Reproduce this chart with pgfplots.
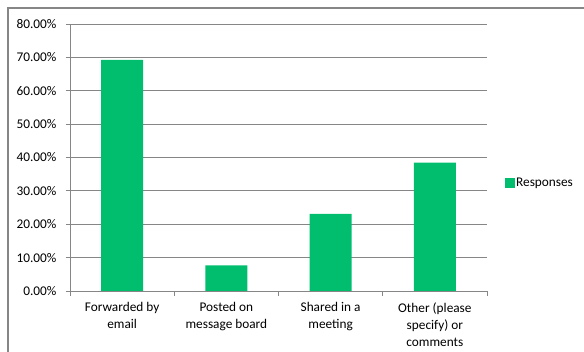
\documentclass[border=0pt]{standalone}
\usepackage{fontspec}
\setmainfont{Carlito}
\usepackage{pgfplots}
\pgfplotsset{compat=1.18}
\definecolor{barg}{RGB}{0,190,110}
\definecolor{gridc}{RGB}{134,134,134}
\begin{document}
\begin{tikzpicture}
\fontsize{13.3bp}{17bp}\selectfont
\draw[gridc, line width=1.2bp] (8bp,0bp) -- (8bp,344bp) -- (584bp,344bp);
\begin{axis}[
  at={(70bp,61bp)}, anchor=south west,
  scale only axis,
  width=417bp, height=267bp,
  xmin=-0.5, xmax=3.5,
  ymin=0, ymax=80,
  axis x line=bottom, axis y line=left,
  axis line style={gridc, line width=0.8bp, -},
  ytick={0,10,...,80},
  yticklabel={\pgfmathprintnumber[fixed,fixed zerofill,precision=2]{\tick}\%},
  /pgf/number format/assume math mode=true,
  ymajorgrids,
  grid style={gridc, line width=0.8bp},
  xtick={0,1,2,3},
  xticklabels={Forwarded by\\email, Posted on\\message board, Shared in a\\meeting, Other (please\\specify) or\\comments},
  xticklabel style={align=center, font=\fontsize{13.3bp}{17bp}\selectfont, yshift=-3bp},
  yticklabel style={font=\fontsize{13.3bp}{17bp}\selectfont, xshift=-5bp},
  major x tick style={draw=none},
  minor xtick={-0.5,0.5,1.5,2.5,3.5},
  minor tick length=5bp,
  major tick length=4bp,
  tick align=outside,
  tick style={gridc, line width=0.8bp},
  ybar, bar width=42bp,
  legend style={at={(1.043,0.404)}, anchor=west, draw=none, fill=none,
     font=\fontsize{13.3bp}{17bp}\selectfont, inner sep=0pt,
     nodes={inner sep=1bp}},
  legend image code/.code={\fill[barg] (0bp,-5bp) rectangle (10bp,5bp);},
]
\addplot[fill=barg, draw=none] coordinates {(0,69.23) (1,7.69) (2,23.08) (3,38.46)};
\addlegendentry{Responses}
\end{axis}
\pgfresetboundingbox
\useasboundingbox (0bp,0bp) rectangle (584bp,352bp);
\end{tikzpicture}
\end{document}
